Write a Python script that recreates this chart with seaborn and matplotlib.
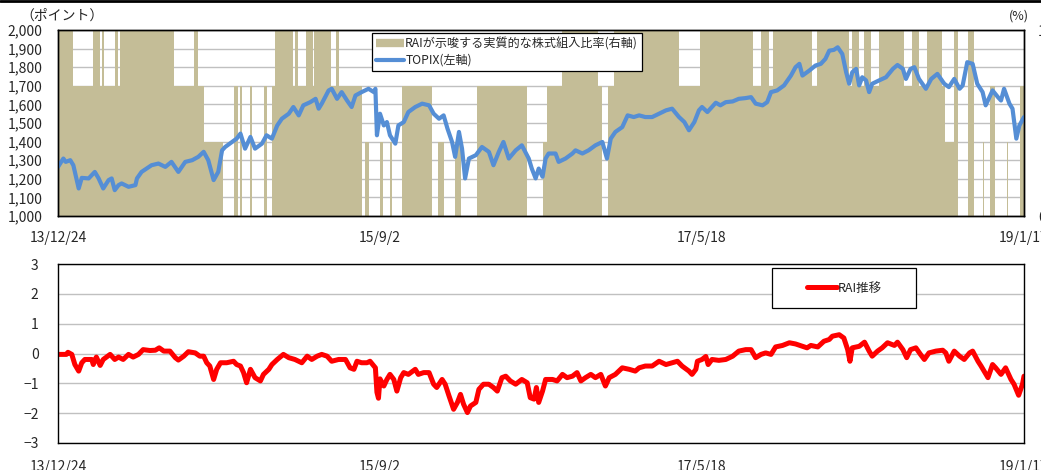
import numpy as np
import pandas as pd
import matplotlib
matplotlib.use("Agg")
import matplotlib.pyplot as plt
import seaborn as sns
from matplotlib.lines import Line2D
from matplotlib.patches import Rectangle

sns.set_style("white")
plt.rcParams['font.family'] = ['Noto Sans CJK JP', 'DejaVu Sans']

# 横軸は営業日インデックス（0 = 13/12/24, 1260 = 19/1/17）
# TOPIX（左軸）：読み取り点
topix_day = [0, 7, 10, 16, 20, 27, 31, 40, 48, 53, 59, 66, 70, 74, 79, 83, 92,
             101, 103, 109, 122, 131, 140, 148, 157, 166, 175, 183, 190, 196,
             203, 209, 214, 218, 227, 233, 238, 244, 251, 257, 266, 272, 279,
             286, 292, 301, 307, 314, 320, 329, 336, 340, 344, 353, 357, 364,
             370, 377, 383, 388, 396, 405, 412, 414, 416, 420, 425, 429, 433,
             440, 444, 451, 457, 466, 475, 484, 490, 497, 503, 508, 514, 518,
             523, 527, 531, 536, 545, 553, 562, 568, 575, 581, 588, 597, 605,
             614, 618, 623, 627, 632, 636, 640, 649, 653, 662, 671, 675, 684,
             692, 701, 710, 716, 721, 727, 736, 743, 751, 758, 766, 775, 784,
             793, 801, 810, 817, 823, 830, 836, 840, 847, 853, 858, 864, 871,
             880, 888, 897, 904, 910, 919, 925, 930, 938, 947, 956, 962, 967,
             971, 980, 988, 995, 1001, 1006, 1012, 1017, 1023, 1028, 1032,
             1036, 1041, 1045, 1049, 1054, 1058, 1062, 1071, 1080, 1089, 1095,
             1102, 1106, 1112, 1117, 1123, 1132, 1139, 1147, 1156, 1162, 1169,
             1176, 1180, 1186, 1193, 1199, 1206, 1210, 1215, 1219, 1226, 1230,
             1234, 1241, 1245, 1250, 1254, 1260]
topix_val = [1264, 1309, 1291, 1300, 1273, 1148, 1205, 1202, 1237, 1202, 1148,
             1193, 1202, 1139, 1166, 1175, 1157, 1166, 1202, 1237, 1273, 1282,
             1264, 1291, 1237, 1291, 1300, 1318, 1345, 1300, 1193, 1237, 1353,
             1371, 1398, 1416, 1443, 1362, 1425, 1362, 1389, 1434, 1416, 1487,
             1523, 1550, 1586, 1541, 1595, 1612, 1630, 1577, 1604, 1675, 1684,
             1630, 1666, 1621, 1586, 1648, 1666, 1684, 1666, 1684, 1434, 1550,
             1487, 1505, 1434, 1389, 1487, 1505, 1559, 1586, 1604, 1595, 1550,
             1523, 1541, 1470, 1398, 1318, 1452, 1362, 1202, 1309, 1327, 1371,
             1345, 1273, 1345, 1398, 1309, 1353, 1380, 1309, 1255, 1202, 1255,
             1211, 1309, 1336, 1336, 1291, 1309, 1336, 1353, 1336, 1353, 1380,
             1398, 1309, 1416, 1452, 1478, 1541, 1532, 1541, 1532, 1532, 1550,
             1568, 1577, 1532, 1505, 1461, 1505, 1568, 1586, 1559, 1586, 1609,
             1595, 1612, 1616, 1630, 1634, 1639, 1604, 1595, 1612, 1666, 1675,
             1702, 1755, 1800, 1818, 1755, 1782, 1809, 1818, 1845, 1889, 1893,
             1907, 1871, 1773, 1711, 1773, 1791, 1702, 1746, 1729, 1666, 1711,
             1729, 1746, 1791, 1812, 1791, 1737, 1791, 1800, 1737, 1684, 1737,
             1764, 1711, 1693, 1737, 1684, 1702, 1827, 1818, 1711, 1666, 1595,
             1639, 1675, 1639, 1621, 1684, 1604, 1577, 1416, 1487, 1532]

# RAI 推移：読み取り点
rai_day = [0, 11, 13, 18, 22, 27, 31, 35, 44, 46, 50, 55, 59, 68, 74, 79, 85,
           92, 98, 105, 111, 120, 127, 132, 138, 146, 153, 157, 164, 170, 179,
           185, 190, 194, 198, 203, 207, 212, 220, 229, 233, 238, 242, 246,
           251, 257, 264, 268, 275, 279, 286, 294, 301, 309, 318, 325, 331,
           338, 344, 351, 357, 366, 375, 381, 386, 390, 396, 403, 407, 414,
           416, 418, 420, 425, 429, 433, 438, 442, 447, 451, 457, 466, 470,
           477, 484, 490, 494, 501, 505, 510, 516, 521, 525, 529, 534, 538,
           545, 549, 555, 562, 568, 573, 579, 584, 590, 597, 605, 612, 616,
           621, 624, 627, 632, 636, 645, 651, 658, 664, 671, 677, 682, 688,
           695, 701, 708, 714, 719, 727, 736, 745, 753, 758, 766, 775, 784,
           793, 801, 808, 814, 823, 827, 832, 834, 840, 845, 848, 853, 862,
           871, 880, 888, 897, 904, 910, 917, 923, 930, 936, 945, 954, 962,
           971, 977, 982, 991, 999, 1006, 1010, 1019, 1025, 1030, 1033, 1036,
           1045, 1052, 1058, 1062, 1069, 1075, 1082, 1091, 1095, 1102, 1107,
           1112, 1119, 1125, 1130, 1136, 1145, 1154, 1158, 1162, 1169, 1176,
           1182, 1189, 1193, 1200, 1204, 1213, 1219, 1223, 1230, 1236, 1243,
           1247, 1253, 1258, 1260]
rai_val = [-0.03, -0.03, 0.04, -0.03, -0.37, -0.59, -0.31, -0.2, -0.2, -0.37,
           -0.12, -0.4, -0.2, -0.03, -0.2, -0.12, -0.2, -0.03, -0.12, -0.03,
           0.13, 0.1, 0.11, 0.19, 0.08, 0.08, -0.14, -0.22, -0.09, 0.06, 0.02,
           -0.09, -0.09, -0.31, -0.42, -0.87, -0.53, -0.31, -0.31, -0.26,
           -0.37, -0.42, -0.64, -0.98, -0.53, -0.81, -0.92, -0.7, -0.53,
           -0.37, -0.2, -0.03, -0.14, -0.2, -0.31, -0.09, -0.2, -0.09, -0.03,
           -0.09, -0.26, -0.2, -0.2, -0.48, -0.53, -0.26, -0.31, -0.31, -0.26,
           -0.48, -1.3, -1.5, -0.85, -1.09, -0.87, -0.7, -0.87, -1.26, -0.81,
           -0.64, -0.7, -0.53, -0.7, -0.64, -0.64, -1.03, -1.14, -0.87, -1.03,
           -1.42, -1.87, -1.64, -1.37, -1.7, -1.98, -1.76, -1.64, -1.2, -1.03,
           -1.03, -1.14, -1.26, -0.81, -0.76, -0.92, -1.03, -0.87, -0.98,
           -1.48, -1.53, -1.14, -1.64, -1.26, -0.87, -0.87, -0.92, -0.7, -0.81,
           -0.76, -0.64, -0.92, -0.81, -0.7, -0.81, -0.7, -1.09, -0.81, -0.7,
           -0.48, -0.53, -0.59, -0.48, -0.42, -0.42, -0.26, -0.37, -0.31,
           -0.26, -0.42, -0.59, -0.7, -0.53, -0.26, -0.2, -0.1, -0.37, -0.2,
           -0.23, -0.2, -0.09, 0.08, 0.13, 0.13, -0.14, -0.03, 0.02, -0.03,
           0.22, 0.27, 0.36, 0.32, 0.24, 0.19, 0.27, 0.22, 0.41, 0.47, 0.58,
           0.63, 0.52, 0.13, -0.26, 0.19, 0.24, 0.38, 0.08, -0.09, 0.08, 0.19,
           0.36, 0.27, 0.38, 0.13, -0.14, 0.13, 0.19, -0.03, -0.2, 0.02, 0.08,
           0.11, 0.02, -0.26, 0.08, -0.09, -0.2, 0.02, 0.08, -0.26, -0.42,
           -0.81, -0.37, -0.48, -0.7, -0.48, -0.87, -1.03, -1.4, -1.03, -0.76]

# 株式組入比率（変化点の営業日インデックスと水準%）
alloc_start = [0, 20, 46, 55, 57, 60, 74, 78, 81, 151, 178, 183, 191, 215,
               230, 235, 238, 240, 251, 253, 269, 273, 279, 283, 306, 309,
               313, 324, 332, 334, 356, 362, 366, 396, 401, 405, 420, 424,
               433, 436, 449, 488, 496, 503, 518, 525, 547, 612, 632, 638,
               658, 704, 710, 718, 725, 810, 838, 907, 917, 927, 932, 984,
               990, 1032, 1035, 1045, 1051, 1060, 1071, 1103, 1114, 1123,
               1133, 1153, 1157, 1169, 1174, 1187, 1195, 1206, 1208, 1216,
               1222, 1238, 1239, 1255]
alloc_level = [100, 70, 100, 70, 100, 70, 100, 70, 100, 70, 100, 70, 40, 0,
               70, 0, 70, 0, 70, 0, 70, 0, 70, 100, 70, 100,
               70, 100, 70, 100, 70, 100, 70, 0, 40, 0, 40, 0,
               40, 0, 70, 0, 40, 0, 40, 0, 70, 0, 40, 70,
               100, 70, 0, 70, 100, 70, 100, 70, 100, 70, 100, 70,
               100, 70, 100, 70, 100, 70, 100, 70, 100, 70,
               100, 70, 40, 100, 0, 100, 0, 40, 0, 70,
               0, 40, 0, 70]

tick_pos = [0, 420, 840, 1260]
tick_labels = ['13/12/24', '15/9/2', '17/5/18', '19/1/17']
end_day = 1260

tan = '#C4BD97'
blue = '#558ED5'
red = '#FF0000'
grid_c = '#C0C0C0'

df_t = pd.DataFrame({'day': topix_day, 'TOPIX': topix_val})
df_r = pd.DataFrame({'day': rai_day, 'RAI': rai_val})
ax_x = alloc_start + [end_day]
ax_y = alloc_level + [alloc_level[-1]]

W, H = 1041, 470
fig = plt.figure(figsize=(W / 100, H / 100), dpi=100)

# ---- 上段：組入比率（右軸）と TOPIX（左軸）
ax_a = fig.add_axes([58 / W, 1 - 216 / H, 966 / W, 186 / H])
ax_t = ax_a.twinx()

ax_a.set_axisbelow(True)
ax_a.fill_between(ax_x, ax_y, step='post', color=tan, linewidth=0, zorder=2)
ax_a.set_ylim(0, 100)
ax_a.set_yticks([0, 100])
ax_a.set_yticks(range(10, 100, 10), minor=True)
ax_a.yaxis.grid(True, which='both', color=grid_c, linewidth=1)
ax_a.yaxis.tick_right()
ax_a.tick_params(axis='y', which='both', length=0, pad=10, labelsize=10)
ax_a.set_xlim(0, end_day)
ax_a.set_xticks(tick_pos)
ax_a.set_xticklabels(tick_labels)
ax_a.tick_params(axis='x', length=0, pad=11, labelsize=10)

sns.lineplot(data=df_t, x='day', y='TOPIX', ax=ax_t, color=blue, linewidth=3,
             estimator=None, sort=False, legend=False)
ax_t.set_ylim(1000, 2000)
ax_t.set_yticks(range(1000, 2001, 100))
ax_t.set_yticklabels([f'{v:,}' for v in range(1000, 2001, 100)])
ax_t.yaxis.tick_left()
ax_t.tick_params(axis='y', length=0, pad=11, labelsize=10)
ax_t.set_xlabel('')
ax_t.set_ylabel('')
ax_a.set_ylabel('')

for a in (ax_a, ax_t):
    for s in a.spines.values():
        s.set_color('black')
        s.set_linewidth(1)

handles = [Line2D([], [], color=tan, linewidth=6, solid_capstyle='butt'),
           Line2D([], [], color=blue, linewidth=3)]
leg = ax_t.legend(handles, ['RAIが示唆する実質的な株式組入比率(右軸)', 'TOPIX(左軸)'],
                  loc='upper left', bbox_to_anchor=(0.325, 0.984),
                  fontsize=8.7, frameon=True, fancybox=False, framealpha=1,
                  edgecolor='black', handlelength=2.3, handletextpad=0.1,
                  labelspacing=0.3, borderpad=0.35, borderaxespad=0)
leg.get_frame().set_linewidth(0.9)

fig.text(62 / W, 1 - 16 / H, '（ポイント）', ha='center', va='center', fontsize=10)
fig.text(1019 / W, 1 - 16 / H, '(%)', ha='center', va='center', fontsize=9)

# ---- 下段：RAI 推移
ax_r = fig.add_axes([58 / W, 1 - 443 / H, 966 / W, 179 / H])
sns.lineplot(data=df_r, x='day', y='RAI', ax=ax_r, color=red, linewidth=3.6,
             estimator=None, sort=False, legend=False)
ax_r.set_xlim(0, end_day)
ax_r.set_ylim(-3, 3)
ax_r.set_yticks(range(-3, 4))
ax_r.set_xticks(tick_pos)
ax_r.set_xticklabels(tick_labels)
ax_r.yaxis.grid(True, color=grid_c, linewidth=1)
ax_r.set_axisbelow(True)
ax_r.tick_params(axis='both', length=0, labelsize=10)
ax_r.tick_params(axis='y', pad=14)
ax_r.tick_params(axis='x', pad=12)
ax_r.set_xlabel('')
ax_r.set_ylabel('')
for s in ax_r.spines.values():
    s.set_color('black')
    s.set_linewidth(1)

ax_r.add_patch(Rectangle((0.739, 0.754), 0.149, 0.224, transform=ax_r.transAxes,
                         facecolor='white', edgecolor='black', linewidth=0.9,
                         zorder=5))
ax_r.legend([Line2D([], [], color=red, linewidth=3.6)], ['RAI推移'],
            loc='center', bbox_to_anchor=(0.814, 0.866), frameon=False,
            fontsize=9, handlelength=2.4, handletextpad=0.1).set_zorder(6)

fig.add_artist(Line2D([0, 1], [1 - 1 / H, 1 - 1 / H], color='black',
                      linewidth=2, transform=fig.transFigure))

fig.savefig('out.png', dpi=100)
